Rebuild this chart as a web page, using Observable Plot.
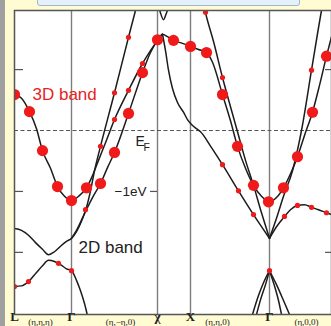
<!DOCTYPE html>
<html><head><meta charset="utf-8">
<script src="https://cdn.jsdelivr.net/npm/d3@7"></script>
<script src="https://cdn.jsdelivr.net/npm/@observablehq/plot@0.6"></script>
<style>
html,body{margin:0;padding:0;background:#fffbd3;}
#wrap{position:relative;width:331px;height:326px;overflow:hidden;background:#fffbd3;}
#strip{position:absolute;left:0;top:0;width:5px;height:326px;background:#a0a0a0;}
#box{position:absolute;left:37px;top:-6px;width:261px;height:10px;background:#e4f1fb;border:1px solid #9fb7cf;border-radius:3px;}
#chart{position:absolute;left:0;top:0;}
</style></head><body>
<div id="wrap"><div id="strip"></div><div id="box"></div><div id="chart"></div></div>
<script>
// high-symmetry points (k along path) and labels
const symK = [0, 57, 143, 176, 255];
const symLabels = ["L", "Γ", "χ", "X", "Γ"];
const dirK = [26, 106, 203, 292];
const dirLabels = ["(η,η,η)", "(η,−η,0)", "(η,η,0)", "(η,0,0)"];
const leftTicksE = [1, -1, -2];
const rightTicksE = [1, -2];

// bands: [k, E(eV)]
const band3D = [[0,0.59],[7,0.53],[15,0.31],[22,0.03],[28,-0.33],[36,-0.62],[43,-0.92],[50,-1.08],[57,-1.15],[64,-1.08],[72,-0.94],[78,-0.74],[84,-0.49],[92,-0.16],[100,0.18],[114,0.66],[128,1.10],[136,1.31],[143,1.48],[148,1.58],[153,1.54],[159,1.48],[168,1.43],[176,1.38],[184,1.33],[192,1.28],[198,1.12],[208,0.59],[216,0.16],[223,-0.26],[231,-0.62],[239,-0.90],[247,-1.08],[255,-1.17],[262,-1.10],[269,-0.94],[276,-0.71],[283,-0.43],[290,-0.08],[298,0.30],[305,0.74],[312,1.22],[317,1.54]];
const band2DUpper = [[0,-1.61],[7,-1.64],[14,-1.72],[21,-1.84],[28,-1.95],[34,-2.04],[40,-1.99],[46,-1.90],[52,-1.82],[57,-1.77],[62,-1.66],[67,-1.49],[72,-1.26],[76,-0.99],[80,-0.66],[86,-0.26],[100,0.62],[114,1.53],[121,1.97],[124,2.15]];
const bandGX = [[57,-1.77],[62,-1.64],[71,-1.33],[78,-1.10],[86,-0.87],[93,-0.61],[100,-0.36],[114,0.28],[128,0.95],[136,1.28],[143,1.48],[148,1.58]];
const bandDown = [[148,1.58],[151,1.31],[154,0.99],[158,0.69],[163,0.46],[169,0.30],[173,0.18],[177,0.10],[182,0.03],[186,-0.02],[197,-0.28],[208,-0.56],[224,-0.99],[239,-1.38],[255,-1.77]];
const bandFlat = [[255,-1.77],[262,-1.58],[270,-1.41],[276,-1.30],[283,-1.23],[290,-1.22],[297,-1.26],[304,-1.30],[312,-1.35],[317,-1.38]];
const bandSteepL = [[188,2.15],[190,2.00],[200,1.40],[208,0.87],[216,0.39],[223,-0.02],[231,-0.49],[239,-0.90],[247,-1.35],[255,-1.77]];
const bandSteepR = [[255,-1.77],[262,-1.44],[269,-1.08],[278,-0.66],[287,0],[297,0.99],[307,1.97],[309,2.15]];
const bandTopV = [[144,2.05],[146,1.93],[149,1.82],[152,1.93],[155,2.05]];
const band2DLower = [[0,-2.56],[7,-2.55],[14,-2.48],[22,-2.33],[28,-2.22],[34,-2.13],[40,-2.15],[46,-2.20],[52,-2.27],[57,-2.30],[62,-2.46],[66,-2.63],[70,-2.84],[73,-3.04]];
const coneL1 = [[238,-3.02],[244,-2.71],[249,-2.50],[255,-2.30]];
const coneL2 = [[242,-3.02],[246,-2.78],[251,-2.53],[255,-2.30]];
const coneR1 = [[255,-2.30],[260,-2.55],[264,-2.79],[267,-3.02]];
const coneR2 = [[255,-2.30],[262,-2.53],[269,-2.79],[275,-3.02]];

// 3D weight markers
const bigDots = [[0,0.59],[15,0.31],[28,-0.33],[43,-0.92],[57,-1.15],[72,-0.94],[86,-0.87],[100,-0.36],[114,0.28],[128,0.95],[143,1.49],[159,1.48],[176,1.38],[192,1.28],[208,0.59],[223,-0.26],[239,-0.90],[254,-1.17],[269,-0.94],[283,-0.43],[298,0.30],[312,1.22]];
const smallDots = [[114,1.53],[100,0.62],[86,-0.26],[114,0.66],[100,0.18],[128,1.10],[71,-1.30],[191,1.94],[208,0.87],[208,-0.56],[224,-0.99],[239,-1.38],[270,-1.41],[283,-1.23],[297,-1.26],[312,-1.35],[297,0.99],[255,-2.30],[0,-2.56],[57,-2.30],[14,-2.48],[44,-2.18]];

const named = [["3D",band3D],["2DU",band2DUpper],["GX",bandGX],["down",bandDown],["flat",bandFlat],["sL",bandSteepL],["sR",bandSteepR],["V",bandTopV],["2DL",band2DLower],["cL1",coneL1],["cL2",coneL2],["cR1",coneR1],["cR2",coneR2]];
const lines = named.flatMap(([n, pts]) => pts.map(([k, E]) => ({band: n, k, E})));
const toObj = a => a.map(([k, E]) => ({k, E}));

const chart = Plot.plot({
  width: 331, height: 326,
  marginLeft: 14, marginRight: 0, marginTop: 10, marginBottom: 12,
  x: {domain: [0, 317], axis: null},
  y: {domain: [-3.02, 1.97], axis: null},
  style: {background: "transparent", fontFamily: "Liberation Sans, Arial, sans-serif"},
  marks: [
    Plot.frame({fill: "white"}),
    Plot.ruleX(symK.slice(1), {stroke: "#7d7d7d", strokeWidth: 1.4}),
    Plot.ruleY([0], {stroke: "#555", strokeWidth: 1, strokeDasharray: "4,2.5"}),
    Plot.ruleY(leftTicksE, {x1: 0, x2: 9, stroke: "#555", strokeWidth: 1.2}),
    Plot.ruleY(rightTicksE, {x1: 311, x2: 317, stroke: "#555", strokeWidth: 1.2}),
    Plot.ruleY([-1], {x1: 136, x2: 143, stroke: "#555", strokeWidth: 1.2}),
    Plot.line(lines, {x: "k", y: "E", z: "band", curve: "monotone-x", stroke: "#1c1c1c", strokeWidth: 1.5, clip: true}),
    Plot.dot(toObj(smallDots), {x: "k", y: "E", r: 2.6, fill: "#f01a1a", clip: true}),
    Plot.dot(toObj(bigDots), {x: "k", y: "E", r: 5.6, fill: "#f01a1a", clip: true}),
    Plot.text(["3D band"], {x: 18, y: 0.59, text: d => d, textAnchor: "start", fontSize: 17, fill: "#e8231f"}),
    Plot.text(["2D band"], {x: 64, y: -1.92, text: d => d, textAnchor: "start", fontSize: 17, fill: "#222"}),
    Plot.text(["−1eV"], {x: 132, y: -1.0, text: d => d, textAnchor: "end", fontSize: 13.5, fill: "#222"}),
    Plot.text(["E"], {x: 121, y: -0.18, text: d => d, textAnchor: "start", fontSize: 14, fill: "#222"}),
    Plot.text(["F"], {x: 129, y: -0.28, text: d => d, textAnchor: "start", fontSize: 10.5, fill: "#222"}),
    Plot.frame({stroke: "#555", strokeWidth: 1.5}),
    Plot.text(symK, {x: d => d, text: (d, i) => symLabels[i], frameAnchor: "bottom", dy: 6, fontSize: 13, fontWeight: "bold", fontFamily: "Liberation Serif, serif", fill: "#222"}),
    Plot.text(dirK, {x: d => d, text: (d, i) => dirLabels[i], frameAnchor: "bottom", dy: 10, fontSize: 9, fontFamily: "Liberation Serif, serif", fill: "#222"})
  ]
});
document.getElementById("chart").appendChild(chart);
</script>
</body></html>
